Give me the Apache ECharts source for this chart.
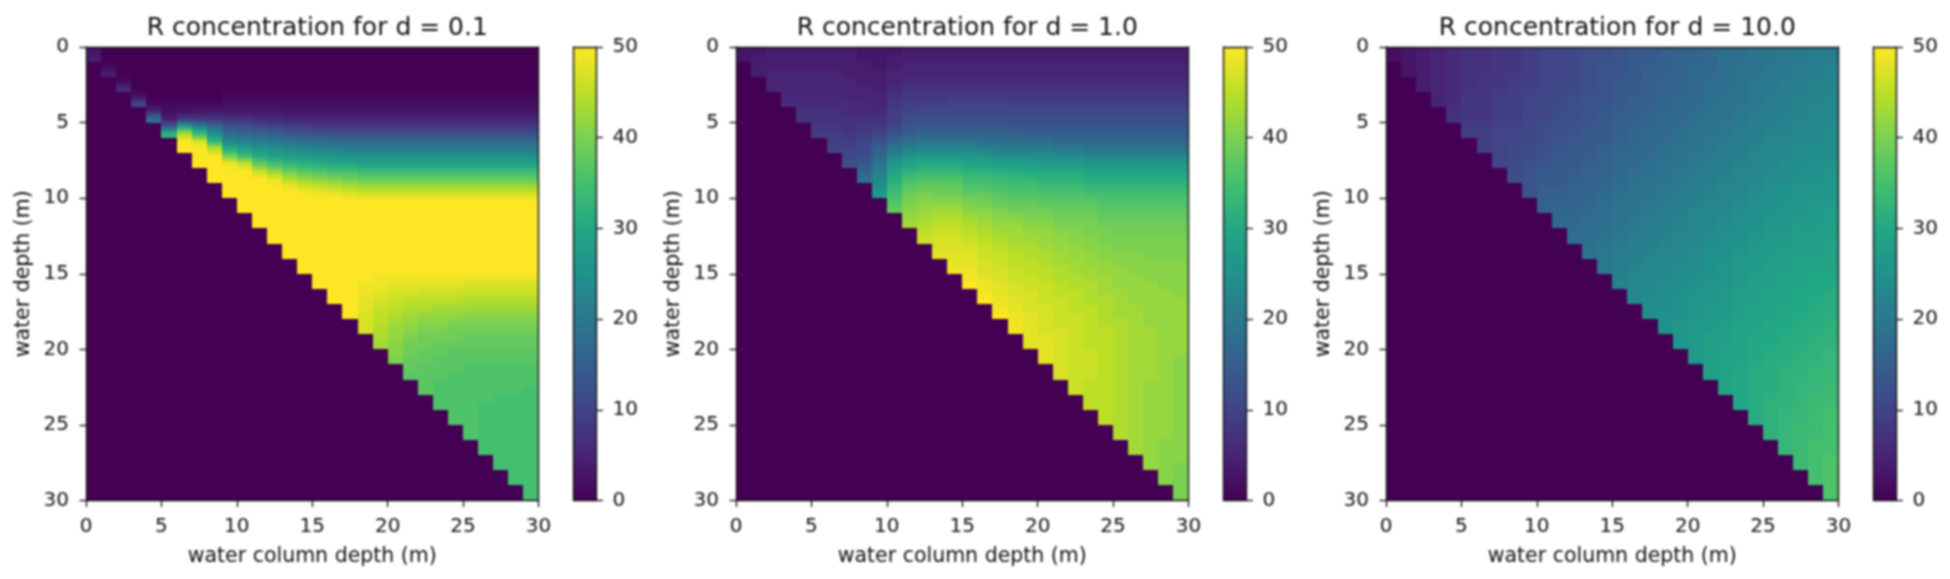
<!DOCTYPE html>
<html><head><meta charset="utf-8">
<style>html,body{margin:0;padding:0;background:#fff}#chart{width:1950px;height:579px;filter:blur(0.8px)}</style>
<script src="https://cdn.jsdelivr.net/npm/echarts@6/dist/echarts.min.js"></script>
</head><body><div id="chart"></div>
<script>
const panelTitles = ['R concentration for d = 0.1','R concentration for d = 1.0','R concentration for d = 10.0'];
const xAxisName = 'water column depth (m)';
const yAxisName = 'water depth (m)';
const viridis = ['#440154','#482475','#414487','#355f8d','#2a788e','#21918c','#22a884','#44bf70','#7ad151','#bddf26','#fde725'];

// Each inner list is one column of the water column axis, listed from the surface down.
// Rows are 0.5 m deep.
const concentrationD01 = [
[3,4],
[0,0,1,4],
[0,0,0,0,1,6],
[0,0,0,0,0,0,2,10],
[0,0,0,0,0,0,0,1,5,18],
[0,0,0,0,0,0,0,1,2,4,14,32],
[0,0,0,0,0,0,0,1,2,8,29,44,50,50],
[0,0,0,0,0,0,0,1,3,8,22,34,47,50,50,50],
[0,0,0,0,0,0,0,1,3,8,17,25,33,45,50,50,50,50],
[0,0,0,0,0,0,1,2,3,7,13,18,23,31,40,49,50,50,50,50],
[0,0,0,0,0,0,1,2,3,7,12,17,22,28,35,46,50,50,50,50,50,50],
[0,0,0,0,0,0,1,2,3,6,11,16,21,26,31,38,46,50,50,50,50,50,50,50],
[0,0,0,0,0,0,1,2,3,6,10,15,20,25,29,35,42,48,50,50,50,50,50,50,50,50],
[0,0,0,0,0,0,1,2,3,5,9,14,19,24,28,33,39,44,49,50,50,50,50,50,50,50,50,50],
[0,0,0,0,0,0,1,2,3,5,9,13,18,23,27,32,37,42,47,50,50,50,50,50,50,50,50,50,50,50],
[0,0,0,0,0,0,1,2,3,5,8,13,18,22,26,31,36,41,46,49,50,50,50,50,50,50,50,50,50,50,50,50],
[0,0,0,0,0,0,1,2,3,5,8,12,17,22,26,30,35,40,45,49,50,50,50,50,50,50,50,50,50,50,50,50,50,50],
[0,0,0,0,0,0,1,2,3,5,8,12,17,21,25,30,35,39,44,48,50,50,50,50,50,50,50,50,50,50,50,50,50,50,50,50],
[0,0,0,0,0,0,1,2,3,5,8,12,17,21,25,29,34,38,43,47,50,50,50,50,50,50,50,50,50,50,50,49,49,48,48,47,47,47],
[0,0,0,0,0,0,1,2,3,5,8,12,17,21,25,29,34,38,43,47,50,50,50,50,50,50,50,50,50,50,49,49,48,47,46,45,45,44,44,43],
[0,0,0,0,0,0,1,2,3,5,8,12,17,21,25,29,34,38,43,47,50,50,50,50,50,50,50,50,50,50,49,48,47,46,45,44,43,42,42,41,41,40],
[0,0,0,0,0,0,1,2,3,5,8,12,17,21,25,29,34,38,43,47,50,50,50,50,50,50,50,50,50,50,49,48,47,45,44,43,42,41,40,39,39,38,38,37],
[0,0,0,0,0,0,1,2,3,5,8,12,17,21,25,29,34,38,43,47,50,50,50,50,50,50,50,50,50,50,49,48,46,45,44,42,41,40,39,39,38,38,37,37,37,37],
[0,0,0,0,0,0,1,2,3,5,8,12,17,21,25,29,34,38,43,47,50,50,50,50,50,50,50,50,50,50,49,48,46,45,43,42,41,40,39,38,38,37,37,37,36,36,36,36],
[0,0,0,0,0,0,1,2,3,5,8,12,17,21,25,29,34,38,43,47,50,50,50,50,50,50,50,50,50,50,49,48,46,45,43,42,40,39,39,38,37,37,37,36,36,36,36,36,36,36],
[0,0,0,0,0,0,1,2,3,5,8,12,17,21,25,29,34,38,43,47,50,50,50,50,50,50,50,50,50,50,49,47,46,44,43,41,40,39,38,38,37,37,36,36,36,36,36,36,36,36,36,36],
[0,0,0,0,0,0,1,2,3,5,8,12,17,21,25,29,34,38,43,47,50,50,50,50,50,50,50,50,50,50,49,47,46,44,43,41,40,39,38,38,37,37,36,36,36,36,36,35,35,35,35,35,35,35],
[0,0,0,0,0,0,1,2,3,5,8,12,17,21,25,29,34,38,43,47,50,50,50,50,50,50,50,50,50,50,49,47,46,44,43,41,40,39,38,38,37,37,36,36,36,36,35,35,35,35,35,35,35,35,35,35],
[0,0,0,0,0,0,1,2,3,5,8,12,17,21,25,29,34,38,43,47,50,50,50,50,50,50,50,50,50,50,49,47,46,44,43,41,40,39,38,38,37,37,36,36,36,36,35,35,35,35,35,35,35,35,35,35,35,35],
[0,0,0,0,0,0,1,2,3,5,8,12,17,21,25,29,34,38,43,47,50,50,50,50,50,50,50,50,50,50,49,47,46,44,43,41,40,39,38,38,37,37,36,36,36,35,35,35,35,35,35,35,35,35,35,35,35,35,35,35]
];

// Rows are 0.5 m deep.
const concentrationD1 = [
[3,3],
[3,4,4,4],
[4,4,4,5,5,5],
[4,4,4,5,5,5,6,6],
[4,4,4,5,5,5,6,6,7,7],
[4,4,4,5,5,5,6,6,7,7,8,9],
[4,4,4,5,5,5,6,6,7,7,8,9,9,10],
[4,4,4,4,5,5,5,6,6,7,7,8,9,10,11,12],
[3,3,4,4,4,5,5,6,6,7,8,9,10,11,12,14,16,18],
[3,3,3,4,4,4,5,5,6,7,8,10,13,15,17,19,21,23,25,27],
[3,4,4,5,5,6,7,8,9,9,10,13,16,19,23,27,29,31,33,35,36,38],
[4,4,5,5,6,7,8,9,10,12,13,15,18,22,26,29,32,35,37,39,40,41,42,43],
[4,4,5,5,6,7,8,9,11,12,14,16,19,23,27,30,33,36,38,40,41,42,43,44,45,46],
[4,4,5,5,6,7,8,9,11,12,14,16,19,23,27,30,33,36,38,39,41,43,44,45,46,47,47,48],
[4,4,5,5,6,7,8,10,11,12,14,16,19,23,27,30,33,36,38,39,41,43,44,45,46,47,47,48,48,49],
[4,4,5,5,6,7,8,10,11,12,14,16,19,23,26,29,32,34,36,38,40,41,43,44,45,46,47,48,48,49,49,50],
[4,4,5,5,6,7,8,10,11,12,14,16,18,22,26,29,32,34,36,38,39,41,42,43,44,45,46,46,47,47,48,49,49,50],
[4,4,5,5,6,7,8,10,11,12,14,16,18,21,25,28,31,34,35,37,38,40,41,42,43,44,45,46,46,47,47,48,48,49,49,50],
[4,4,5,5,6,7,8,9,11,12,13,16,18,21,25,28,31,33,35,36,38,39,41,42,43,43,44,45,45,46,46,47,47,48,48,49,49,49],
[4,4,5,5,6,7,8,9,11,12,13,15,18,21,25,28,30,33,35,36,38,39,40,41,42,43,44,44,45,45,46,46,47,47,47,48,48,48,48,48],
[4,4,5,5,6,7,8,9,11,12,13,15,18,21,24,27,30,32,34,36,37,39,40,41,42,42,43,44,44,45,45,46,46,46,47,47,47,47,48,48,48,48],
[4,4,5,5,6,7,8,9,11,12,13,15,17,20,24,27,30,32,34,36,37,38,39,40,41,42,42,43,43,44,44,45,45,46,46,46,46,47,47,47,47,47,47,47],
[4,4,5,5,6,7,8,9,11,12,13,15,17,20,24,27,30,32,34,36,37,38,39,40,41,41,42,42,43,43,44,44,45,45,45,46,46,46,46,46,46,46,46,46,46,46],
[4,4,5,5,6,7,8,9,11,12,13,15,17,19,23,26,29,31,33,35,37,38,39,40,40,41,41,42,42,43,43,44,44,44,45,45,45,45,45,45,46,46,46,46,45,45,45,45],
[4,4,5,5,6,7,8,9,11,12,13,15,17,19,23,26,29,31,33,35,36,37,38,39,40,40,41,41,42,42,43,43,43,44,44,44,44,45,45,45,45,45,45,45,45,45,45,45,45,45],
[4,4,5,5,6,7,8,9,11,12,13,15,17,19,23,26,29,31,33,35,36,37,38,39,39,40,40,41,41,42,42,42,43,43,43,43,44,44,44,44,44,44,44,44,44,44,44,44,44,44,44,44],
[4,4,5,5,6,7,8,9,11,12,13,15,17,19,23,26,29,31,33,35,36,37,38,39,39,40,40,41,41,41,42,42,42,42,43,43,43,43,43,43,43,43,43,43,43,43,43,43,43,43,43,43,43,43],
[4,4,5,5,6,7,8,9,11,12,13,15,17,19,23,26,29,31,33,35,36,37,38,39,39,40,40,40,41,41,41,42,42,42,42,42,42,43,43,43,43,43,43,43,42,42,42,42,42,42,42,42,42,42,42,42],
[4,4,5,5,6,7,8,9,11,12,13,15,17,19,23,26,29,31,33,35,36,37,38,39,39,40,40,40,41,41,41,41,42,42,42,42,42,42,42,42,42,42,42,42,42,42,42,42,42,42,42,42,41,41,41,41,41,41],
[4,4,5,5,6,7,8,9,11,12,13,15,17,19,23,26,29,31,33,35,36,37,38,39,39,40,40,40,41,41,41,41,41,42,42,42,42,42,42,42,42,41,41,41,41,41,41,41,41,41,41,41,41,41,41,40,40,40,40,40]
];

// Rows are 1 m deep.
const concentrationD10 = [
[2],
[3,3],
[4,4,4],
[5,5,5,5],
[6,6,6,6,7],
[7,7,7,8,8,9],
[7,7,8,8,8,9,9],
[8,8,8,9,9,10,10,10],
[8,8,9,9,9,10,11,11,12],
[9,9,9,10,10,11,11,12,13,13],
[10,10,10,11,11,12,12,13,14,15,16],
[10,10,11,11,12,12,13,14,14,15,16,17],
[11,11,11,12,12,13,14,14,15,16,16,17,18],
[12,12,12,13,13,14,14,15,16,16,17,18,18,19],
[12,13,13,13,14,14,15,16,16,17,18,18,19,20,20],
[13,13,14,14,15,15,16,17,17,18,19,19,20,21,21,22],
[14,14,14,15,15,16,17,17,18,19,19,20,21,21,22,23,23],
[14,15,15,15,16,17,17,18,19,19,20,21,21,22,23,23,24,24],
[15,15,16,16,17,17,18,19,19,20,21,21,22,23,23,24,24,25,25],
[16,16,16,17,17,18,19,19,20,21,21,22,23,23,24,24,25,25,26,26],
[16,17,17,17,18,19,19,20,21,21,22,23,23,24,24,25,26,26,27,27,27],
[17,17,18,18,19,19,20,21,21,22,23,23,24,25,25,26,26,27,27,28,28,28],
[18,18,18,19,19,20,21,21,22,23,23,24,25,25,26,26,27,27,28,28,29,29,29],
[18,19,19,19,20,21,21,22,23,23,24,25,25,26,27,27,28,28,29,29,29,30,30,30],
[19,19,20,20,21,21,22,23,23,24,25,25,26,27,27,28,28,29,29,30,30,31,31,31,31],
[19,20,20,21,21,22,23,23,24,25,25,26,27,27,28,28,29,29,30,30,31,31,31,32,32,32],
[20,20,21,21,22,22,23,24,24,25,26,26,27,28,28,29,29,30,30,31,31,32,32,32,33,33,33],
[20,21,21,22,22,23,24,24,25,26,26,27,28,28,29,29,30,30,31,31,32,32,33,33,33,34,34,34],
[21,21,22,22,23,23,24,25,25,26,27,27,28,28,29,30,30,31,31,32,32,33,33,34,34,34,35,35,35],
[21,22,22,23,23,24,24,25,26,26,27,28,28,29,29,30,31,31,32,32,33,33,34,34,35,35,35,36,36,36]
];

const panelData = [concentrationD01, concentrationD1, concentrationD10];
const panelRowStep = [0.5, 0.5, 1];

// Each cell: x from, x to, depth from, depth to, value, value of the row above, value of the row below.
function buildCells(columns, rowStep) {
  const out = [];
  columns.forEach((col, i) => {
    col.forEach((v, k) => out.push([i, i + 1, k * rowStep, (k + 1) * rowStep, v,
      k > 0 ? col[k - 1] : v, k < col.length - 1 ? col[k + 1] : v]));
    for (let y = col.length * rowStep; y < 30; y += 1) out.push([i, i + 1, y, y + 1, 0, 0, 0]);
  });
  return out;
}
function buildColorbar() {
  const out = [];
  for (let l = 0; l < 50; l += 0.5) out.push([0, 1, l, l + 0.5, l + 0.25, l + 0.25, l + 0.25]);
  return out;
}
const ramp = v => echarts.color.lerp(Math.max(0, Math.min(1, v / 50)), viridis);
function renderCell(params, api) {
  const a = api.coord([api.value(0), api.value(2)]);
  const b = api.coord([api.value(1), api.value(3)]);
  const x0 = Math.round(a[0]), x1 = Math.round(b[0]);
  const y0 = Math.round(Math.min(a[1], b[1])), y1 = Math.round(Math.max(a[1], b[1]));
  const v = api.value(4), up = api.value(5), down = api.value(6);
  const color = api.visual('color');
  const fill = (up === v && down === v) ? color : new echarts.graphic.LinearGradient(0, 0, 0, 1, [
    { offset: 0, color: ramp((up + v) / 2) }, { offset: 0.5, color }, { offset: 1, color: ramp((down + v) / 2) }]);
  return { type: 'rect', shape: { x: x0, y: y0, width: x1 - x0, height: y1 - y0 }, style: { fill } };
}

const INK = '#111', FONT = '"DejaVu Sans"';
const PLOT_W = 452.5, PLOT_H = 453.5, TOP = 47, BAR_W = 23;
const lineStyle = { color: '#111', width: 1.4 };
const grid = [], xAxis = [], yAxis = [], series = [], title = [];
const frameX = (gi, pos, range) => ({ gridIndex: gi, type: 'value', position: pos, min: range[0], max: range[1], z: 5,
  axisLine: { show: true, onZero: false, lineStyle }, axisTick: { show: false }, axisLabel: { show: false }, splitLine: { show: false } });
const frameY = (gi, pos, range, inverse) => ({ gridIndex: gi, type: 'value', position: pos, min: range[0], max: range[1], inverse, z: 5,
  axisLine: { show: true, onZero: false, lineStyle }, axisTick: { show: false }, axisLabel: { show: false }, splitLine: { show: false } });
const tickStyle = { show: true, length: 6.5, lineStyle: { color: '#111', width: 1.3 } };
const labelStyle = { show: true, color: INK, fontFamily: FONT, fontSize: 20 };
const nameStyle = { color: INK, fontFamily: FONT, fontSize: 20.5 };

panelTitles.forEach((t, p) => {
  const left = 86 + 650 * p, barLeft = 573.5 + 650 * p;
  const gi = grid.length;
  grid.push({ left, top: TOP, width: PLOT_W, height: PLOT_H });
  grid.push({ left: barLeft, top: TOP, width: BAR_W, height: PLOT_H });
  title.push({ text: t, left: left + PLOT_W / 2, top: 11, textAlign: 'center',
    textStyle: { color: INK, fontFamily: FONT, fontSize: 25, fontWeight: 'normal' } });

  const xi = xAxis.length, yi = yAxis.length;
  xAxis.push(Object.assign(frameX(gi, 'bottom', [0, 30]), { interval: 5, axisTick: tickStyle,
    axisLabel: Object.assign({ margin: 16 }, labelStyle), name: xAxisName, nameLocation: 'middle', nameGap: 46, nameTextStyle: nameStyle }));
  xAxis.push(frameX(gi, 'top', [0, 30]));
  yAxis.push(Object.assign(frameY(gi, 'left', [0, 30], true), { interval: 5, axisTick: tickStyle,
    axisLabel: Object.assign({ margin: 17 }, labelStyle), name: yAxisName, nameLocation: 'middle', nameGap: 52, nameTextStyle: nameStyle }));
  yAxis.push(frameY(gi, 'right', [0, 30], true));
  series.push({ type: 'custom', coordinateSystem: 'cartesian2d', xAxisIndex: xi, yAxisIndex: yi, silent: true,
    renderItem: renderCell, data: buildCells(panelData[p], panelRowStep[p]), encode: { x: [0, 1], y: [2, 3] }, progressive: 0, clip: false });

  xAxis.push(frameX(gi + 1, 'bottom', [0, 1]));
  xAxis.push(frameX(gi + 1, 'top', [0, 1]));
  yAxis.push(frameY(gi + 1, 'left', [0, 50], false));
  yAxis.push(Object.assign(frameY(gi + 1, 'right', [0, 50], false), { interval: 10, axisTick: tickStyle,
    axisLabel: Object.assign({ margin: 16 }, labelStyle) }));
  series.push({ type: 'custom', coordinateSystem: 'cartesian2d', xAxisIndex: xi + 2, yAxisIndex: yi + 3, silent: true,
    renderItem: renderCell, data: buildColorbar(), encode: { x: [0, 1], y: [2, 3] }, progressive: 0, clip: false });
});

const chart = echarts.init(document.getElementById('chart'));
chart.setOption({
  animation: false, backgroundColor: '#fff', title, grid, xAxis, yAxis, series,
  visualMap: { type: 'continuous', show: false, min: 0, max: 50, dimension: 4, seriesIndex: series.map((s, i) => i), inRange: { color: viridis } }
});
</script></body></html>
